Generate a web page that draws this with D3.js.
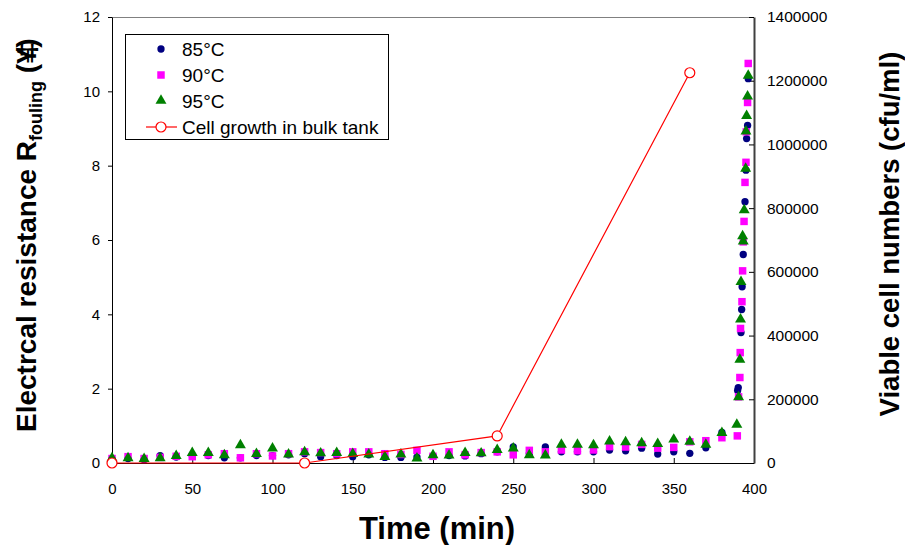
<!DOCTYPE html>
<html>
<head>
<meta charset="utf-8">
<script src="https://cdn.jsdelivr.net/npm/d3@7"></script>
<style>
  html, body { margin: 0; padding: 0; background: #fff; }
  svg { display: block; font-family: "Liberation Sans", Arial, sans-serif; }
</style>
</head>
<body>
<svg id="chart" width="905" height="545"></svg>
<script>
// ---------- data ----------
const time85 = [0,10,20,30,40,50,60,70,80,90,100,110,120,130,140,150,160,170,180,190,200,210,220,230,240,250,260,270,280,290,300,310,320,330,340,350,360,370,380,389.8,390.2,391.9,392.3,392.6,393.3,394.4,395,395.4,396,396.4];
const r85 = [0.12,0.12,0.09,0.2,0.16,0.2,0.2,0.14,0.14,0.2,0.2,0.22,0.25,0.17,0.2,0.17,0.22,0.15,0.15,0.16,0.19,0.2,0.19,0.25,0.3,0.43,0.25,0.43,0.3,0.3,0.3,0.35,0.33,0.4,0.24,0.3,0.26,0.41,0.82,1.95,2.03,3.51,4.13,4.74,5.61,7.03,7.88,8.73,9.08,10.34];

const time90 = [0,10,20,30,40,50,60,70,80,90,100,110,120,130,140,150,160,170,180,190,200,210,220,230,240,250,260,270,280,290,300,310,320,330,340,350,360,370,380,389.6,390.4,391.2,391.4,391.6,392.5,392.9,393.3,393.8,394.4,395,395.2,396,396.4];
const r90 = [0.12,0.17,0.12,0.15,0.18,0.17,0.22,0.25,0.14,0.25,0.19,0.25,0.3,0.28,0.25,0.3,0.3,0.25,0.23,0.34,0.18,0.3,0.22,0.28,0.3,0.22,0.34,0.3,0.35,0.33,0.35,0.44,0.43,0.5,0.4,0.42,0.57,0.6,0.68,0.73,1.78,2.3,2.97,3.62,4.34,5.17,5.95,6.5,7.55,8.09,8.91,9.7,10.75];

const time95 = [0,10,20,30,40,50,60,70,80,90,100,110,120,130,140,150,160,170,180,190,200,210,220,230,240,250,260,270,280,290,300,310,320,330,340,350,360,370,380,389.3,390.4,391.2,391.6,391.9,392.9,393.3,393.9,394.8,395,395.4,396,396.4];
const r95 = [0.12,0.12,0.1,0.12,0.18,0.26,0.26,0.2,0.47,0.23,0.38,0.22,0.28,0.25,0.26,0.23,0.22,0.15,0.22,0.11,0.2,0.19,0.26,0.25,0.34,0.38,0.2,0.19,0.48,0.48,0.47,0.57,0.55,0.52,0.5,0.62,0.56,0.48,0.8,1.02,1.76,2.77,3.85,4.86,6.09,5.95,6.79,7.91,8.91,9.33,9.85,10.41];

const timeCells = [0,120,240,360];
const cells = [0,0,85000,1225000];

const xTicks = [0,50,100,150,200,250,300,350,400];
const yLeftTicks = [0,2,4,6,8,10,12];
const yRightTicks = [0,200000,400000,600000,800000,1000000,1200000,1400000];

const legendLabels = ["85°C","90°C","95°C","Cell growth in bulk tank"];

// ---------- layout ----------
const L = 112, R = 754, T = 17, B = 463;
const svg = d3.select("#chart");
const x = d3.scaleLinear().domain([0,400]).range([L,R]);
const yL = d3.scaleLinear().domain([0,12]).range([B,T]);
const yR = d3.scaleLinear().domain([0,1400000]).range([B,T]);

// plot frame (top border grey)
svg.append("line").attr("x1",L).attr("x2",R).attr("y1",T+0.5).attr("y2",T+0.5)
  .attr("stroke","#808080").attr("stroke-width",1);

// x axis (ticks inside)
const xAxis = svg.append("g").attr("transform",`translate(0,${B})`)
  .call(d3.axisBottom(x).tickValues(xTicks).tickSizeInner(-5).tickSizeOuter(0).tickPadding(20).tickFormat(d3.format("d")));
// left axis (ticks outside)
const yAxisL = svg.append("g").attr("transform",`translate(${L},0)`)
  .call(d3.axisLeft(yL).tickValues(yLeftTicks).tickSizeInner(4).tickSizeOuter(0).tickPadding(8).tickFormat(d3.format("d")));
// right axis (ticks inside)
const yAxisR = svg.append("g").attr("transform",`translate(${R},0)`)
  .call(d3.axisRight(yR).tickValues(yRightTicks).tickSizeInner(-5).tickSizeOuter(0).tickPadding(13).tickFormat(d3.format("d")));

[xAxis,yAxisL,yAxisR].forEach(g=>{
  g.selectAll("text").attr("font-size",15).attr("fill","#000").style("font-family","'Liberation Sans', Arial, sans-serif");
  g.selectAll("line").attr("stroke","#000");
  g.select(".domain").attr("stroke","#000");
});
yAxisR.select(".domain").attr("stroke","#404040").attr("stroke-width",2);
yAxisR.selectAll("text").attr("font-size",15.5);

// ---------- markers ----------
const data85 = time85.map((t,i)=>({t, v:r85[i]}));
const data90 = time90.map((t,i)=>({t, v:r90[i]}));
const data95 = time95.map((t,i)=>({t, v:r95[i]}));
const dataCells = timeCells.map((t,i)=>({t, v:cells[i]}));

const circleSym = d3.symbol().type(d3.symbolCircle).size(42);
const squareSym = d3.symbol().type(d3.symbolSquare).size(56);
const triSym = d3.symbol().type(d3.symbolTriangle).size(52);

svg.append("g").selectAll("path").data(data85).join("path")
  .attr("d",circleSym).attr("transform",d=>`translate(${x(d.t)},${yL(d.v)})`).attr("fill","#000080");
svg.append("g").selectAll("path").data(data90).join("path")
  .attr("d",squareSym).attr("transform",d=>`translate(${x(d.t)},${yL(d.v)})`).attr("fill","#FF00FF");
svg.append("g").selectAll("path").data(data95).join("path")
  .attr("d",triSym).attr("transform",d=>`translate(${x(d.t)},${yL(d.v)-0.5})`).attr("fill","#008000");

// cell growth line
svg.append("path").datum(dataCells)
  .attr("d",d3.line().x(d=>x(d.t)).y(d=>yR(d.v)))
  .attr("fill","none").attr("stroke","#FF0000").attr("stroke-width",1.2);
svg.append("g").selectAll("circle").data(dataCells).join("circle")
  .attr("cx",d=>x(d.t)).attr("cy",d=>yR(d.v)).attr("r",5)
  .attr("fill","#fff").attr("stroke","#FF0000").attr("stroke-width",1.2);

// ---------- legend ----------
const lg = svg.append("g");
lg.append("rect").attr("x",125.5).attr("y",34.5).attr("width",263).attr("height",105)
  .attr("fill","#fff").attr("stroke","#000").attr("stroke-width",1);
const rowY = [49,75,101,127];
const mx = 161;
lg.append("path").attr("d",circleSym).attr("transform",`translate(${mx},${rowY[0]})`).attr("fill","#000080");
lg.append("path").attr("d",squareSym).attr("transform",`translate(${mx},${rowY[1]})`).attr("fill","#FF00FF");
lg.append("path").attr("d",triSym).attr("transform",`translate(${mx},${rowY[2]-0.5})`).attr("fill","#008000");
lg.append("line").attr("x1",146).attr("x2",177).attr("y1",rowY[3]).attr("y2",rowY[3]).attr("stroke","#FF0000").attr("stroke-width",1.2);
lg.append("circle").attr("cx",mx).attr("cy",rowY[3]).attr("r",5).attr("fill","#fff").attr("stroke","#FF0000").attr("stroke-width",1.2);
legendLabels.forEach((s,i)=>{
  lg.append("text").attr("x",182).attr("y",rowY[i]+7).attr("font-size",19).attr("fill","#000").text(s);
});

// ---------- titles ----------
svg.append("text").attr("x",437).attr("y",539).attr("text-anchor","middle")
  .attr("font-size",31).attr("font-weight","bold").text("Time (min)");

const lt = svg.append("text").attr("transform","translate(36,432) rotate(-90)")
  .attr("text-anchor","start").attr("font-size",28).attr("font-weight","bold");
lt.append("tspan").text("Electrcal resistance R");
lt.append("tspan").attr("font-size",18).attr("dy",6).text("fouling");
lt.append("tspan").attr("dy",-6).text(" (¥");
lt.append("tspan").attr("dx",-9).text("‡");
lt.append("tspan").attr("dx",-6).text(")");

svg.append("text").attr("transform","translate(899,234) rotate(-90)")
  .attr("text-anchor","middle").attr("font-size",27.5).attr("font-weight","bold")
  .text("Viable cell numbers (cfu/ml)");
</script>
</body>
</html>
